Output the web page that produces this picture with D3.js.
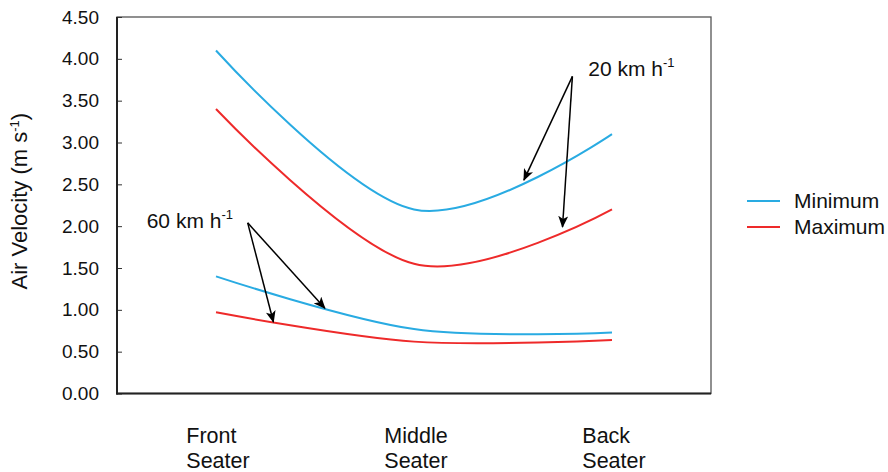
<!DOCTYPE html>
<html>
<head>
<meta charset="utf-8">
<script src="https://cdn.jsdelivr.net/npm/d3@7"></script>
<style>
  body { margin: 0; background: #fff; }
  svg { display: block; font-family: "Liberation Sans", Arial, sans-serif; }
</style>
</head>
<body>
<script>
// chart data
var categories = [["Front", "Seater"], ["Middle", "Seater"], ["Back", "Seater"]];
var yTicks = [0, 0.5, 1, 1.5, 2, 2.5, 3, 3.5, 4, 4.5];
var min20 = [4.10, 2.20, 3.10];
var max20 = [3.40, 1.55, 2.20];
var min60 = [1.40, 0.77, 0.73];
var max60 = [0.97, 0.62, 0.64];
var legendNames = ["Minimum", "Maximum"];

// annotations, in category index / value units
var noteLabels = ["20 km h", "60 km h"];
var noteAt = [[1.88, 3.80], [-0.35, 1.98]];
var noteFrom = [[1.80, 3.79], [0.16, 2.04]];
var noteTo = [[[1.555, 2.55], [1.75, 1.99]], [[0.29, 0.855], [0.55, 1.02]]];

var W = 888, H = 472,
    m = { left: 117, top: 17, right: 177, bottom: 78.5 },
    iw = W - m.left - m.right,
    ih = H - m.top - m.bottom,
    blue = "#29ABE2", red = "#EE2A2A";

var svg = d3.select("body").append("svg")
    .attr("width", W).attr("height", H);

var g = svg.append("g").attr("transform", "translate(" + m.left + "," + m.top + ")");

var x = d3.scaleLinear().domain([-0.5, categories.length - 0.5]).range([0, iw]);
var y = d3.scaleLinear().domain([0, 4.5]).range([ih, 0]);

// frame
g.append("rect")
  .attr("width", iw).attr("height", ih)
  .attr("fill", "none").attr("stroke", "#555").attr("stroke-width", 1.3);

var yAxis = g.append("g")
  .call(d3.axisLeft(y).tickValues(yTicks).tickSize(-5).tickPadding(18)
    .tickFormat(d3.format(".2f")));
yAxis.select(".domain").remove();
yAxis.selectAll("line").attr("stroke", "#333");
yAxis.selectAll("text")
  .attr("font-size", "19px").attr("fill", "#111")
  .attr("font-family", "Liberation Sans, Arial, sans-serif");

g.append("line").attr("x1", 0).attr("x2", 0).attr("y1", 0).attr("y2", ih + 1)
  .attr("stroke", "#222").attr("stroke-width", 2);
g.append("line").attr("x1", -1).attr("x2", iw).attr("y1", ih).attr("y2", ih)
  .attr("stroke", "#222").attr("stroke-width", 2);

// category labels, lines left aligned in a centred block
categories.forEach(function(c, i) {
  var t = g.append("text").attr("font-size", "21.5px").attr("fill", "#111");
  c.forEach(function(s, j) {
    t.append("tspan").attr("x", 0).attr("y", ih + 49 + j * 25).text(s);
  });
  var bw = t.node().getBBox().width;
  t.selectAll("tspan").attr("x", x(i) - bw / 2 + 2);
});

// y title
svg.append("text")
  .attr("transform", "translate(27," + (m.top + ih / 2 - 4) + ") rotate(-90)")
  .attr("text-anchor", "middle").attr("font-size", "22px").attr("fill", "#111")
  .call(function(t) {
    t.append("tspan").text("Air Velocity (m s");
    t.append("tspan").attr("font-size", "13px").attr("dy", -8).text("-1");
    t.append("tspan").attr("dy", 8).text(")");
  });

// curves
var line = d3.line()
  .x(function(d, i) { return x(i); })
  .y(function(d) { return y(d); })
  .curve(d3.curveCardinal.tension(0));

[[min20, blue], [max20, red], [min60, blue], [max60, red]].forEach(function(s) {
  g.append("path").datum(s[0])
    .attr("d", line)
    .attr("fill", "none")
    .attr("stroke", s[1])
    .attr("stroke-width", 2);
});

// arrows
svg.append("defs").append("marker")
  .attr("id", "arr")
  .attr("viewBox", "0 0 12 10")
  .attr("refX", 11).attr("refY", 5)
  .attr("markerWidth", 12).attr("markerHeight", 10)
  .attr("markerUnits", "userSpaceOnUse")
  .attr("orient", "auto")
  .append("path").attr("d", "M0,0 L12,5 L0,10 L3,5 z").attr("fill", "#000");

noteLabels.forEach(function(lbl, k) {
  var t = g.append("text")
    .attr("x", x(noteAt[k][0])).attr("y", y(noteAt[k][1]))
    .attr("font-size", "21px").attr("fill", "#111");
  t.append("tspan").text(lbl);
  t.append("tspan").attr("font-size", "13px").attr("dy", -9).text("-1");

  noteTo[k].forEach(function(p) {
    g.append("line")
      .attr("x1", x(noteFrom[k][0])).attr("y1", y(noteFrom[k][1]))
      .attr("x2", x(p[0])).attr("y2", y(p[1]))
      .attr("stroke", "#000").attr("stroke-width", 1.5)
      .attr("marker-end", "url(#arr)");
  });
});

// legend
var lg = svg.append("g").attr("transform", "translate(747,201)");
legendNames.forEach(function(n, i) {
  var row = lg.append("g").attr("transform", "translate(0," + i * 26 + ")");
  row.append("line").attr("x1", 0).attr("x2", 33)
    .attr("stroke", i === 0 ? blue : red).attr("stroke-width", 2);
  row.append("text").attr("x", 47).attr("y", 7)
    .attr("font-size", "21px").attr("fill", "#111").text(n);
});
</script>
</body>
</html>
